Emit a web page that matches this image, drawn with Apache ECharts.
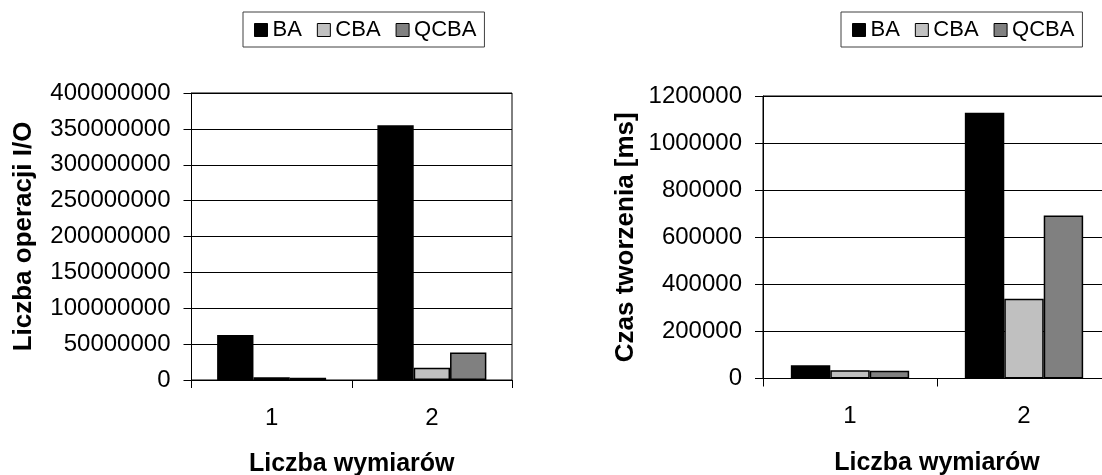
<!DOCTYPE html>
<html>
<head>
<meta charset="utf-8">
<script src="https://cdn.jsdelivr.net/npm/echarts@6/dist/echarts.min.js"></script>
<style>
  html, body { margin: 0; padding: 0; background: #fff; }
  #chart { width: 1102px; height: 475px; }
</style>
</head>
<body>
<div id="chart"></div>
<script>
// Categories: number of dimensions
const categories = ['1', '2'];
const seriesNames = ['BA', 'CBA', 'QCBA'];

// Left panel: number of I/O operations
const ioBA = [62600000, 355000000];
const ioCBA = [4000000, 17000000];
const ioQCBA = [3000000, 38500000];

// Right panel: build time [ms]
const timeBA = [56000, 1129000];
const timeCBA = [35000, 339000];
const timeQCBA = [33000, 692000];

const ioAxisMax = 400000000;
const ioAxisStep = 50000000;
const timeAxisMax = 1200000;
const timeAxisStep = 200000;

const yLabelLeft = 'Liczba operacji I/O';
const yLabelRight = 'Czas tworzenia [ms]';
const xLabel = 'Liczba wymiarów';

const fills = { BA: '#000000', CBA: '#c0c0c0', QCBA: '#808080' };
const FONT = 'Arial, "Liberation Sans", sans-serif';

const chart = echarts.init(document.getElementById('chart'), null, { renderer: 'canvas' });

function legendFor(left) {
  return {
    left: left, top: 12,
    orient: 'horizontal',
    data: seriesNames,
    icon: 'rect',
    itemWidth: 13, itemHeight: 13,
    itemGap: 15,
    padding: [7, 8, 6, 11],
    borderColor: '#404040', borderWidth: 1,
    backgroundColor: '#fff',
    selectedMode: false,
    itemStyle: { borderColor: '#000', borderWidth: 1 },
    textStyle: { fontFamily: FONT, fontSize: 22, color: '#000', lineHeight: 22 }
  };
}

function xAxisFor(gridIndex) {
  return {
    type: 'category', gridIndex: gridIndex, data: categories,
    name: xLabel, nameLocation: 'middle', nameGap: 72,
    nameTextStyle: { fontFamily: FONT, fontSize: 25, fontWeight: 'bold', color: '#000' },
    axisLine: { lineStyle: { color: '#000', width: 1 } },
    axisTick: { show: true, length: 8, lineStyle: { color: '#000' } },
    axisLabel: { fontFamily: FONT, fontSize: 24, color: '#000', margin: 26 },
    splitLine: { show: false }
  };
}

function yAxisFor(gridIndex, max, step, name, nameGap) {
  return {
    type: 'value', gridIndex: gridIndex, min: 0, max: max, interval: step,
    name: name, nameLocation: 'middle', nameGap: nameGap,
    nameTextStyle: { fontFamily: FONT, fontSize: 26, fontWeight: 'bold', color: '#000' },
    axisLine: { show: true, lineStyle: { color: '#000', width: 1 } },
    axisTick: { show: true, length: 8, lineStyle: { color: '#000' } },
    axisLabel: {
      fontFamily: FONT, fontSize: 24, color: '#000', margin: 21,
      formatter: function (v) { return String(v); }
    },
    splitLine: { show: true, lineStyle: { color: '#000', width: 1 } }
  };
}

function barSeries(name, data, idx) {
  return {
    name: name, type: 'bar', data: data,
    xAxisIndex: idx, yAxisIndex: idx,
    barGap: '0%', barCategoryGap: '32%',
    itemStyle: { color: fills[name], borderColor: '#000', borderWidth: 1.5 },
    animation: false
  };
}

chart.setOption({
  animation: false,
  backgroundColor: '#fff',
  legend: [legendFor(243), legendFor(841)],
  grid: [
    { left: 191.5, top: 93, width: 320.5, height: 287, outerBoundsMode: 'none', containLabel: false,
      show: true, borderColor: '#000', borderWidth: 1, backgroundColor: 'transparent' },
    { left: 763, top: 96, width: 348, height: 282.5, outerBoundsMode: 'none', containLabel: false,
      show: true, borderColor: '#000', borderWidth: 1, backgroundColor: 'transparent' }
  ],
  xAxis: [xAxisFor(0), xAxisFor(1)],
  yAxis: [
    yAxisFor(0, ioAxisMax, ioAxisStep, yLabelLeft, 155),
    yAxisFor(1, timeAxisMax, timeAxisStep, yLabelRight, 124)
  ],
  series: [
    barSeries('BA', ioBA, 0),
    barSeries('CBA', ioCBA, 0),
    barSeries('QCBA', ioQCBA, 0),
    barSeries('BA', timeBA, 1),
    barSeries('CBA', timeCBA, 1),
    barSeries('QCBA', timeQCBA, 1)
  ]
});
</script>
</body>
</html>
